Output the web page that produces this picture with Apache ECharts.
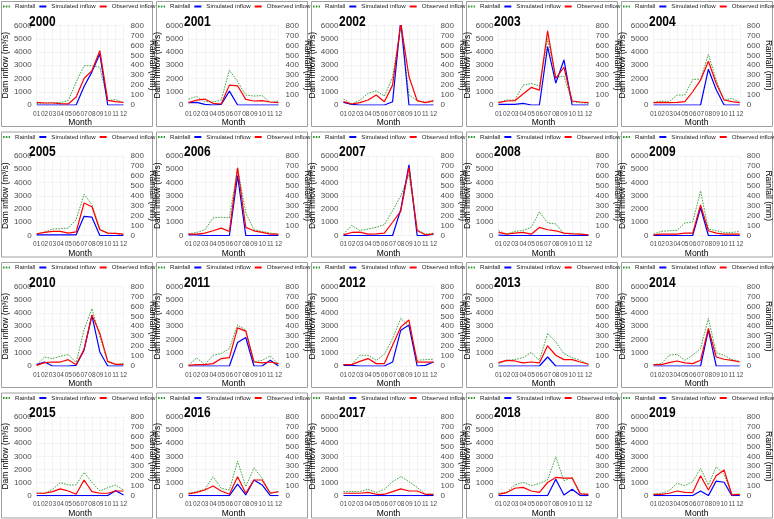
<!DOCTYPE html>
<html><head><meta charset="utf-8">
<script src="https://cdn.jsdelivr.net/npm/echarts/dist/echarts.min.js"></script>
<style>html,body{margin:0;padding:0;background:#fff}#c{width:774px;height:519px}</style>
</head><body><div id="c"></div>
<script>
const months = ['01','02','03','04','05','06','07','08','09','10','11','12'];
const years = [2000,2001,2002,2003,2004,2005,2006,2007,2008,2009,2010,2011,2012,2013,2014,2015,2016,2017,2018,2019];

const rain2000 = [15, 20, 25, 25, 45, 230, 395, 395, 380, 45, 55, 20];
const sim2000  = [0, 0, 0, 0, 0, 0, 1400, 2500, 3850, 0, 0, 0];
const obs2000  = [200, 150, 150, 100, 80, 600, 2000, 2600, 4100, 350, 250, 200];
const rain2001 = [60, 85, 35, 30, 50, 350, 235, 100, 90, 95, 25, 40];
const sim2001  = [175, 200, 50, 0, 50, 1050, 0, 0, 0, 0, 0, 0];
const obs2001  = [175, 375, 450, 125, 75, 1500, 1450, 425, 300, 325, 225, 175];
const rain2002 = [60, 10, 50, 117, 143, 90, 280, 790, 100, 43, 27, 33];
const sim2002  = [200, 50, 0, 0, 0, 0, 250, 6400, 0, 0, 0, 0];
const obs2002  = [250, 75, 175, 375, 750, 250, 1500, 6150, 2150, 325, 175, 325];
const rain2003 = [27, 50, 50, 200, 217, 190, 667, 283, 290, 33, 23, 17];
const sim2003  = [50, 50, 50, 125, 0, 0, 4400, 1650, 3400, 0, 0, 0];
const obs2003  = [175, 300, 325, 825, 1325, 1125, 5600, 2000, 2850, 300, 225, 175];
const rain2004 = [27, 40, 33, 100, 100, 257, 260, 510, 250, 50, 67, 27];
const sim2004  = [0, 0, 0, 0, 0, 0, 0, 2700, 1150, 0, 0, 0];
const obs2004  = [175, 200, 175, 200, 250, 1000, 1875, 3300, 1625, 375, 250, 175];
const rain2005 = [14, 34, 65, 68, 75, 160, 415, 313, 65, 24, 20, 7];
const sim2005  = [50, 50, 50, 50, 50, 50, 1450, 1380, 0, 0, 0, 0];
const obs2005  = [130, 230, 305, 305, 180, 280, 2450, 2170, 435, 180, 155, 100];
const rain2006 = [17, 30, 58, 177, 184, 177, 680, 228, 58, 41, 24, 14];
const sim2006  = [50, 50, 0, 0, 0, 0, 4520, 0, 0, 0, 0, 0];
const obs2006  = [100, 100, 180, 355, 560, 305, 5100, 610, 355, 230, 100, 100];
const rain2007 = [14, 100, 51, 65, 82, 109, 250, 398, 612, 58, 14, 24];
const sim2007  = [0, 0, 0, 0, 0, 0, 0, 1965, 5340, 0, 0, 100];
const obs2007  = [50, 230, 255, 100, 130, 180, 1000, 1840, 5150, 380, 50, 100];
const rain2008 = [48, 14, 41, 51, 82, 238, 126, 116, 17, 24, 14, 7];
const sim2008  = [30, 0, 0, 0, 0, 0, 0, 0, 0, 0, 0, 0];
const obs2008  = [230, 100, 180, 230, 100, 610, 435, 355, 180, 130, 100, 50];
const rain2009 = [14, 41, 48, 51, 126, 136, 449, 65, 48, 31, 31, 41];
const sim2009  = [0, 0, 0, 0, 0, 0, 2095, 0, 0, 0, 0, 0];
const obs2009  = [50, 100, 100, 100, 180, 180, 2300, 355, 180, 100, 100, 100];
const rain2010 = [14, 91, 74, 98, 115, 34, 365, 578, 294, 41, 14, 24];
const sim2010  = [100, 300, 0, 0, 0, 50, 1190, 3800, 1060, 0, 0, 0];
const obs2010  = [50, 250, 300, 300, 480, 100, 1270, 3850, 2460, 350, 130, 130];
const rain2011 = [7, 81, 14, 108, 125, 176, 412, 361, 41, 57, 101, 17];
const sim2011  = [0, 0, 0, 0, 0, 0, 1770, 2150, 0, 0, 430, 0];
const obs2011  = [50, 100, 100, 180, 560, 630, 2880, 2630, 300, 230, 300, 180];
const rain2012 = [14, 14, 108, 108, 57, 118, 277, 479, 400, 57, 64, 68];
const sim2012  = [50, 50, 0, 0, 0, 0, 300, 2700, 3090, 0, 50, 300];
const obs2012  = [100, 100, 350, 560, 180, 180, 1570, 2950, 3470, 300, 300, 300];
const rain2013 = [24, 57, 64, 84, 135, 57, 327, 243, 125, 84, 57, 14];
const sim2013  = [0, 0, 0, 0, 0, 0, 680, 0, 0, 0, 0, 0];
const obs2013  = [250, 430, 380, 230, 300, 230, 1520, 810, 480, 480, 300, 130];
const rain2014 = [14, 24, 108, 118, 57, 108, 176, 479, 132, 108, 64, 47];
const sim2014  = [0, 0, 0, 0, 0, 0, 0, 2700, 0, 0, 0, 0];
const obs2014  = [100, 100, 250, 380, 230, 180, 430, 2830, 680, 510, 430, 300];
const rain2015 = [24, 24, 64, 132, 108, 108, 236, 135, 47, 81, 108, 57];
const sim2015  = [0, 0, 0, 0, 0, 0, 0, 0, 0, 0, 380, 50];
const obs2015  = [180, 180, 300, 510, 350, 100, 1190, 300, 180, 180, 350, 350];
const rain2016 = [24, 41, 64, 193, 74, 57, 351, 91, 283, 176, 24, 41];
const sim2016  = [0, 0, 0, 0, 0, 0, 880, 50, 1190, 810, 0, 0];
const obs2016  = [130, 250, 430, 730, 350, 100, 1440, 180, 1190, 1190, 180, 300];
const rain2017 = [41, 41, 41, 64, 31, 64, 142, 193, 142, 84, 14, 14];
const sim2017  = [0, 0, 0, 0, 0, 0, 0, 0, 0, 0, 0, 0];
const obs2017  = [180, 180, 180, 250, 100, 100, 300, 510, 350, 350, 100, 100];
const rain2018 = [24, 34, 108, 135, 101, 125, 159, 395, 150, 185, 17, 14];
const sim2018  = [0, 0, 0, 0, 0, 0, 0, 1250, 50, 480, 0, 0];
const obs2018  = [100, 230, 560, 630, 350, 250, 1000, 1390, 1340, 1340, 130, 100];
const rain2019 = [14, 24, 51, 125, 101, 142, 277, 108, 294, 216, 14, 14];
const sim2019  = [0, 0, 0, 0, 0, 0, 350, 0, 1110, 1020, 0, 0];
const obs2019  = [100, 100, 180, 350, 250, 230, 1520, 430, 1520, 1950, 50, 100];

const rainList = [rain2000,rain2001,rain2002,rain2003,rain2004,rain2005,rain2006,rain2007,rain2008,rain2009,rain2010,rain2011,rain2012,rain2013,rain2014,rain2015,rain2016,rain2017,rain2018,rain2019];
const simList = [sim2000,sim2001,sim2002,sim2003,sim2004,sim2005,sim2006,sim2007,sim2008,sim2009,sim2010,sim2011,sim2012,sim2013,sim2014,sim2015,sim2016,sim2017,sim2018,sim2019];
const obsList = [obs2000,obs2001,obs2002,obs2003,obs2004,obs2005,obs2006,obs2007,obs2008,obs2009,obs2010,obs2011,obs2012,obs2013,obs2014,obs2015,obs2016,obs2017,obs2018,obs2019];

const FONT = "'Liberation Sans', Arial, sans-serif";
const GREEN = '#2e9a2e', BLUE = '#0000ff', RED = '#ff0000';
const colX = [0, 155, 310, 465, 620];
const rowY = [0, 130.5, 261, 391.5];

const grid = [], xAxis = [], yAxis = [], series = [], legend = [], graphic = [];
years.forEach((yr, i) => {
  const cx = colX[i % 5], ry = rowY[Math.floor(i / 5)];
  graphic.push({type:'rect', silent:true, z:-10, shape:{x:cx+1.5, y:ry+1.5, width:151, height:125},
    style:{fill:'none', stroke:'#a0a0a0', lineWidth:1}});
  graphic.push({type:'text', silent:true, x:cx+29, y:ry+14, scaleX:0.8, z:10,
    style:{text:String(yr), font:"bold 15px 'Liberation Sans', Arial, sans-serif", fill:'#000', verticalAlign:'top', align:'left'}});
  grid.push({left:cx+33.5, top:ry+25.5, width:90, height:79.5, containLabel:false});
  xAxis.push({gridIndex:i, type:'category', data:months, boundaryGap:false,
    axisLine:{show:false}, axisTick:{show:false},
    axisLabel:{interval:0, fontSize:6.5, color:'#4d4d4d', margin:5.5, fontFamily:FONT},
    splitLine:{show:true, lineStyle:{color:'#ebebeb', width:0.6}},
    name:'Month', nameLocation:'middle', nameGap:9.5,
    nameTextStyle:{fontSize:8.5, color:'#000', fontFamily:FONT}});
  yAxis.push({gridIndex:i, type:'value', position:'left', min:0, max:6000, interval:1000,
    axisLine:{show:false}, axisTick:{show:false},
    axisLabel:{fontSize:8, color:'#4d4d4d', margin:5, fontFamily:FONT, formatter: v => String(v)},
    splitLine:{show:true, lineStyle:{color:'#ebebeb', width:0.6}},
    minorTick:{show:false, splitNumber:2},
    minorSplitLine:{show:true, lineStyle:{color:'#f4f4f4', width:0.4}},
    name:'Dam inflow (m\u00b3/s)', nameLocation:'middle', nameGap:21,
    nameTextStyle:{fontSize:8.5, color:'#000', fontFamily:FONT}});
  yAxis.push({gridIndex:i, type:'value', position:'right', min:0, max:800, interval:100,
    axisLine:{show:false}, axisTick:{show:false},
    axisLabel:{fontSize:8, color:'#4d4d4d', margin:7, fontFamily:FONT, formatter: v => String(v)},
    splitLine:{show:false},
    name:'Rainfall (mm)', nameLocation:'middle', nameRotate:-90, nameGap:15.5,
    nameTextStyle:{fontSize:8.5, color:'#000', fontFamily:FONT}});
  series.push({type:'line', name:'Rainfall', xAxisIndex:i, yAxisIndex:2*i+1, data:rainList[i],
    symbol:'none', silent:true, z:2, lineStyle:{color:GREEN, width:0.9, type:[1.6,1.2]}, itemStyle:{color:GREEN}});
  series.push({type:'line', name:'Simulated inflow', xAxisIndex:i, yAxisIndex:2*i, data:simList[i],
    symbol:'none', silent:true, z:3, lineStyle:{color:BLUE, width:1.2}, itemStyle:{color:BLUE}});
  series.push({type:'line', name:'Observed inflow', xAxisIndex:i, yAxisIndex:2*i, data:obsList[i],
    symbol:'none', silent:true, z:4, lineStyle:{color:RED, width:1.2}, itemStyle:{color:RED}});
  legend.push({left:cx+2, top:ry+3.5, padding:0, itemWidth:7, itemHeight:6, itemGap:3,
    width:170, selectedMode:false,
    itemStyle:{opacity:0},
    textStyle:{fontSize:6.1, color:'#222', fontFamily:FONT},
    data:['Rainfall','Simulated inflow','Observed inflow']});
});

const chart = echarts.init(document.getElementById('c'), null, {renderer:'canvas'});
chart.setOption({backgroundColor:'#fff', animation:false, grid, xAxis, yAxis, series, legend, graphic});
</script></body></html>
